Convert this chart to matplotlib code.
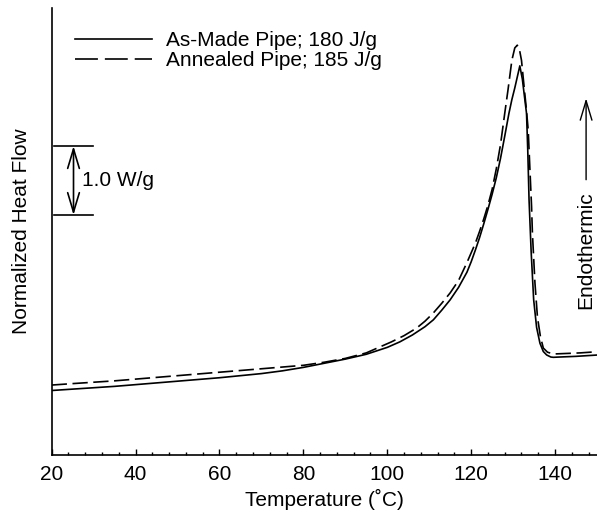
import matplotlib
matplotlib.use("Agg")
import matplotlib.pyplot as plt
from matplotlib.patches import FancyArrowPatch
from matplotlib.lines import Line2D
from matplotlib.ticker import MultipleLocator

plt.rcParams['font.family'] = ['Liberation Sans', 'DejaVu Sans']
plt.rcParams['lines.scale_dashes'] = False

# ---- data (temperature in C, normalized heat flow in W/g, arbitrary offset) ----
asmade_T = [20, 25, 30, 35, 40, 45, 50, 55, 60, 65, 70, 75, 80, 85, 90, 95,
            100, 103, 106, 109, 111, 113, 115, 117, 119, 120, 121, 122, 123,
            124, 125, 126, 127, 128, 129.0, 129.7, 130.4, 131.0, 131.6,
            132.2, 132.8, 133.2, 133.5, 133.8, 134.3, 134.9, 135.6, 136.4,
            137.2, 138.0, 139.0, 139.6, 141, 145, 150]
asmade_W = [0.935, 0.955, 0.975, 0.995, 1.02, 1.045, 1.07, 1.095, 1.12, 1.15,
            1.18, 1.22, 1.27, 1.33, 1.39, 1.46, 1.56, 1.64, 1.74, 1.86, 1.96,
            2.10, 2.25, 2.43, 2.65, 2.80, 2.97, 3.15, 3.35, 3.56, 3.78, 4.02,
            4.30, 4.62, 4.95, 5.15, 5.32, 5.48, 5.64, 5.45, 5.15, 4.95, 4.40,
            3.70, 2.95, 2.25, 1.85, 1.62, 1.50, 1.45, 1.42, 1.416, 1.42, 1.43,
            1.449]

annealed_T = [20, 25, 30, 35, 40, 45, 50, 55, 60, 65, 70, 75, 80, 85, 90, 95,
              98, 101, 104, 107, 109, 111, 113, 115, 117, 119, 120, 121, 122,
              123, 124, 125, 126, 127, 128, 128.8, 129.7, 130.4, 131.0, 131.5,
              132.0, 132.6, 133.1, 133.6, 134.0, 134.4, 134.6, 135.2, 135.8,
              136.5, 137.2, 138.2, 139.6, 142, 146, 150]
annealed_W = [1.014, 1.035, 1.055, 1.075, 1.10, 1.125, 1.15, 1.175, 1.20,
              1.225, 1.25, 1.275, 1.30, 1.345, 1.40, 1.48, 1.56, 1.64, 1.73,
              1.84, 1.94, 2.06, 2.20, 2.35, 2.53, 2.79, 2.93, 3.07, 3.24, 3.42,
              3.62, 3.85, 4.15, 4.50, 4.95, 5.30, 5.72, 5.90, 5.94, 5.88, 5.72,
              5.35, 5.05, 4.71, 4.15, 3.60, 3.22, 2.50, 2.00, 1.72, 1.55, 1.49,
              1.464, 1.47, 1.48, 1.497]

labels = ["As-Made Pipe; 180 J/g", "Annealed Pipe; 185 J/g"]
xticks = [20, 40, 60, 80, 100, 120, 140]

fig = plt.figure(figsize=(5.97, 5.17), dpi=100)
ax = fig.add_axes([0.0866, 0.1199, 0.9134, 0.864])

ax.plot(asmade_T, asmade_W, color='black', lw=1.2)
ax.plot(annealed_T, annealed_W, color='black', lw=1.2, dashes=(11, 4))

ax.set_xlim(20, 150)
ax.set_ylim(0, 6.474)
ax.set_xticks(xticks)
ax.xaxis.set_minor_locator(MultipleLocator(4))
ax.tick_params(axis='x', which='major', direction='in', length=4, width=1,
               labelsize=15, pad=7)
ax.tick_params(axis='x', which='minor', direction='in', length=2, width=1)
ax.set_yticks([])
for s in ['top', 'right']:
    ax.spines[s].set_visible(False)
for s in ['left', 'bottom']:
    ax.spines[s].set_linewidth(1.2)

ax.set_xlabel('Temperature (\u02daC)', fontsize=15, labelpad=4)
ax.set_ylabel('Normalized Heat Flow', fontsize=15, labelpad=15)

handles = [Line2D([], [], color='black', lw=1.2),
           Line2D([], [], color='black', lw=1.2, dashes=(16.5, 5))]
ax.legend(handles, labels, loc='upper left', bbox_to_anchor=(0.0427, 0.949),
          frameon=False, fontsize=15, handlelength=3.7,
          handletextpad=0.67, labelspacing=0.05, borderpad=0,
          borderaxespad=0)

# scale bar 1.0 W/g
ax.plot([20.55, 29.85], [4.478, 4.478], color='black', lw=1.2)
ax.plot([20.55, 29.85], [3.478, 3.478], color='black', lw=1.2)
ax.add_patch(FancyArrowPatch((25.2, 3.478), (25.2, 4.478),
                             arrowstyle='<->,head_length=1.0,head_width=0.3',
                             mutation_scale=14, color='black', lw=1.2,
                             shrinkA=0, shrinkB=0))
ax.text(27.3, 3.978, '1.0 W/g', fontsize=15, ha='left', va='center')

# endothermic arrow
ax.add_patch(FancyArrowPatch((147.4, 3.99), (147.4, 5.17),
                             arrowstyle='->,head_length=1.0,head_width=0.3',
                             mutation_scale=14, color='black', lw=1.0,
                             shrinkA=0, shrinkB=0))
ax.text(147.2, 2.97, 'Endothermic', fontsize=15, rotation=90,
        ha='center', va='center')

fig.savefig('out.png', dpi=100)
